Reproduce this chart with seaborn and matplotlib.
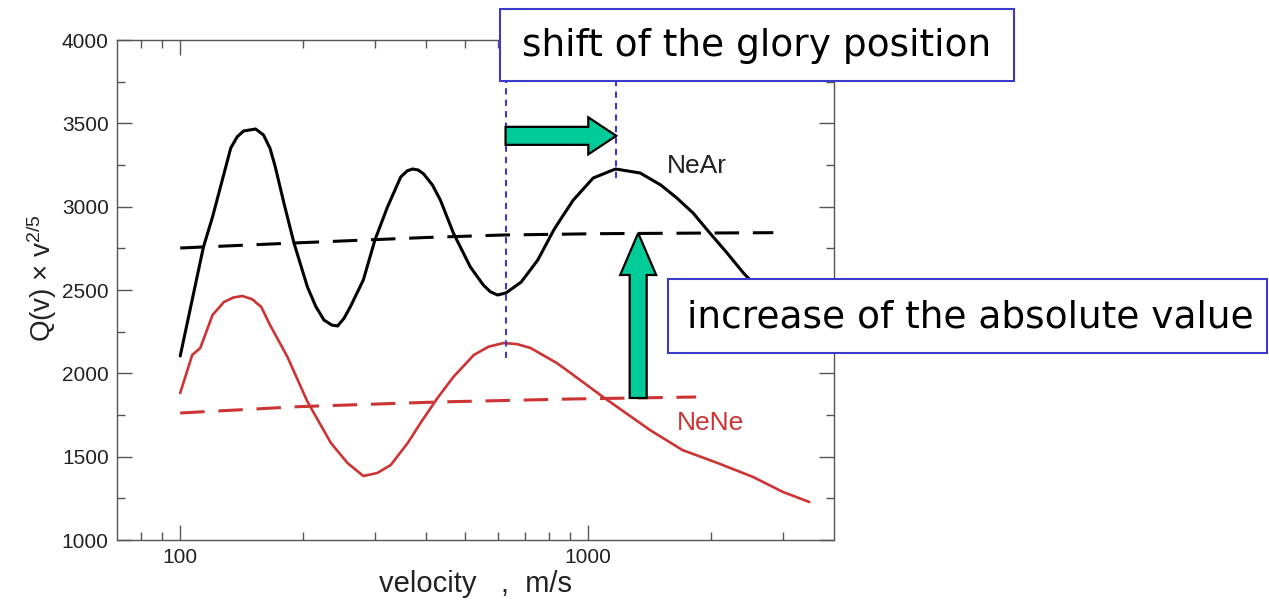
import matplotlib
matplotlib.use("Agg")
import matplotlib.pyplot as plt
import seaborn as sns
import pandas as pd
from matplotlib.ticker import FixedLocator, FixedFormatter, NullFormatter
from matplotlib.patches import Rectangle, Polygon
from matplotlib.transforms import IdentityTransform

# ---------------- data ----------------
near_v = [100, 114, 120, 133, 138, 143, 153, 160, 166, 171, 180, 190, 205, 215, 225, 235, 243,
          252, 261, 281, 300, 322, 347, 360, 371, 383, 395, 415, 434, 467, 514, 553, 575, 599,
          628, 685, 752, 823, 853, 919, 1028, 1166, 1340, 1505, 1648, 1806, 1985, 2188, 2400,
          2520, 2800]
near_q = [2104, 2758, 2938, 3352, 3420, 3454, 3466, 3430, 3350, 3238, 3010, 2782, 2518, 2400,
          2320, 2290, 2284, 2330, 2398, 2560, 2800, 2998, 3178, 3215, 3226, 3220, 3196, 3130,
          3040, 2842, 2638, 2530, 2490, 2470, 2482, 2548, 2680, 2860, 2920, 3040, 3172, 3226,
          3202, 3130, 3052, 2962, 2842, 2722, 2602, 2548, 2380]

nene_v = [100, 107, 112, 120, 128, 135, 142, 150, 158, 166, 183, 205, 234, 257, 281, 304, 328,
          361, 388, 427, 467, 524, 570, 620, 670, 722, 837, 905, 1087, 1416, 1700, 2074, 2534,
          3000, 3480]
nene_q = [1882, 2110, 2152, 2350, 2428, 2455, 2464, 2445, 2398, 2290, 2100, 1830, 1582, 1462,
          1384, 1402, 1450, 1582, 1702, 1852, 1978, 2110, 2160, 2182, 2175, 2152, 2062, 2002,
          1858, 1660, 1540, 1462, 1378, 1288, 1228]

near_avg_v = [100, 190, 400, 620, 1070, 2840]
near_avg_q = [2752, 2782, 2815, 2830, 2838, 2844]

nene_avg_v = [100, 195, 427, 905, 1837]
nene_avg_q = [1762, 1800, 1828, 1846, 1858]

glory_v = [627, 1171]          # glory positions (start / end of the shift)
abs_arrow_v = 1325             # where the "increase" arrow is drawn

x_major = [100, 1000]
x_major_labels = ["100", "1000"]
x_minor = [80, 90, 200, 300, 400, 500, 600, 700, 800, 900, 2000, 3000]
y_major = [1000, 1500, 2000, 2500, 3000, 3500, 4000]
y_minor = [1250, 1750, 2250, 2750, 3250, 3750]

# ---------------- figure ----------------
sns.set_style("ticks")
plt.rcParams["font.family"] = ["Liberation Sans", "DejaVu Sans"]
plt.rcParams["mathtext.fontset"] = "custom"
plt.rcParams["mathtext.rm"] = "Liberation Sans"
plt.rcParams["mathtext.it"] = "Liberation Sans:italic"

W, H = 1269, 600
fig = plt.figure(figsize=(W / 100, H / 100), dpi=100)
fig.patch.set_facecolor("white")
ax = fig.add_axes([117 / W, 1 - 540 / H, 717 / W, 500 / H])

RED = "#cc3333"

df_near = pd.DataFrame({"v": near_v, "Q": near_q})
df_nene = pd.DataFrame({"v": nene_v, "Q": nene_q})
df_near_avg = pd.DataFrame({"v": near_avg_v, "Q": near_avg_q})
df_nene_avg = pd.DataFrame({"v": nene_avg_v, "Q": nene_avg_q})

sns.lineplot(data=df_near, x="v", y="Q", ax=ax, color="black", lw=2.2,
             estimator=None, sort=False)
sns.lineplot(data=df_near_avg, x="v", y="Q", ax=ax, color="black", lw=2.2,
             estimator=None, sort=False)
ax.lines[-1].set_dashes((8, 4.5))
sns.lineplot(data=df_nene, x="v", y="Q", ax=ax, color=RED, lw=1.9,
             estimator=None, sort=False)
sns.lineplot(data=df_nene_avg, x="v", y="Q", ax=ax, color=RED, lw=2.2,
             estimator=None, sort=False)
ax.lines[-1].set_dashes((8, 4.5))
for ln in ax.lines:
    ln.set_solid_joinstyle("round")

ax.set_xscale("log")
ax.set_xlim(70, 4000)
ax.set_ylim(1000, 4000)

ax.xaxis.set_major_locator(FixedLocator(x_major))
ax.xaxis.set_major_formatter(FixedFormatter(x_major_labels))
ax.xaxis.set_minor_locator(FixedLocator(x_minor))
ax.xaxis.set_minor_formatter(NullFormatter())
ax.yaxis.set_major_locator(FixedLocator(y_major))
ax.yaxis.set_minor_locator(FixedLocator(y_minor))

SP = "#555555"
for s in ax.spines.values():
    s.set_visible(True)
    s.set_color(SP)
    s.set_linewidth(1.0)
ax.tick_params(which="both", direction="in", top=True, right=True, color=SP,
               width=1.0, labelsize=15, labelcolor="#222222", pad=6)
ax.tick_params(which="major", length=11)
ax.tick_params(which="minor", length=5.5)

ax.set_xlabel("velocity   ,  m/s", fontsize=21, color="#222222", labelpad=2)
ax.set_ylabel("")
fig.text(42 / W, 1 - 278 / H, "Q(v) × v$^{2/5}$", rotation=90, ha="center",
         va="center", fontsize=20, color="#222222")

ax.text(1560, 3244, "NeAr", fontsize=19, color="#222222", va="center", ha="left")
ax.text(1652, 1702, "NeNe", fontsize=19, color=RED, va="center", ha="left")

# ---------------- annotations ----------------
BLUE = "#3a3acc"
ax.vlines(glory_v[0], 2092, 3750, colors=BLUE, lw=1.5, linestyles=(0, (3, 2.5)),
          clip_on=False, zorder=5)
ax.vlines(glory_v[1], 3172, 3750, colors=BLUE, lw=1.5, linestyles=(0, (3, 2.5)),
          clip_on=False, zorder=5)

GREEN = "#00cc99"
tr = ax.transData
# horizontal arrow (shift of glory)
x0, yh = tr.transform((glory_v[0], 3425))
x1, _ = tr.transform((glory_v[1], 3425))
sh, hh, hl = 18, 37, 28
pts = [(x0, yh + sh / 2), (x1 - hl, yh + sh / 2), (x1 - hl, yh + hh / 2), (x1, yh),
       (x1 - hl, yh - hh / 2), (x1 - hl, yh - sh / 2), (x0, yh - sh / 2)]
fig.add_artist(Polygon(pts, closed=True, transform=IdentityTransform(), fc=GREEN,
                       ec="black", lw=1.6, zorder=6))
# vertical arrow (increase of absolute value)
xv, yb = tr.transform((abs_arrow_v, 1852))
_, yt = tr.transform((abs_arrow_v, 2842))
sw, hw, hv = 17, 36, 42
pts = [(xv - sw / 2, yb), (xv - sw / 2, yt - hv), (xv - hw / 2, yt - hv), (xv, yt),
       (xv + hw / 2, yt - hv), (xv + sw / 2, yt - hv), (xv + sw / 2, yb)]
fig.add_artist(Polygon(pts, closed=True, transform=IdentityTransform(), fc=GREEN,
                       ec="black", lw=1.6, zorder=6))

def box(x0p, y0p, x1p, y1p, text, cx, cy):
    fig.add_artist(Rectangle((x0p / W, 1 - y1p / H), (x1p - x0p) / W, (y1p - y0p) / H,
                             transform=fig.transFigure, fc="white", ec=BLUE, lw=1.5,
                             zorder=7))
    fig.text(cx / W, 1 - cy / H, text, fontsize=27, family="DejaVu Sans",
             color="black", ha="center", va="center", zorder=8)

box(500, 9, 1014, 81, "shift of the glory position", 757, 46)
box(668, 279, 1267, 353, "increase of the absolute value", 970, 318)

fig.savefig("out.png", dpi=100, facecolor="white")
